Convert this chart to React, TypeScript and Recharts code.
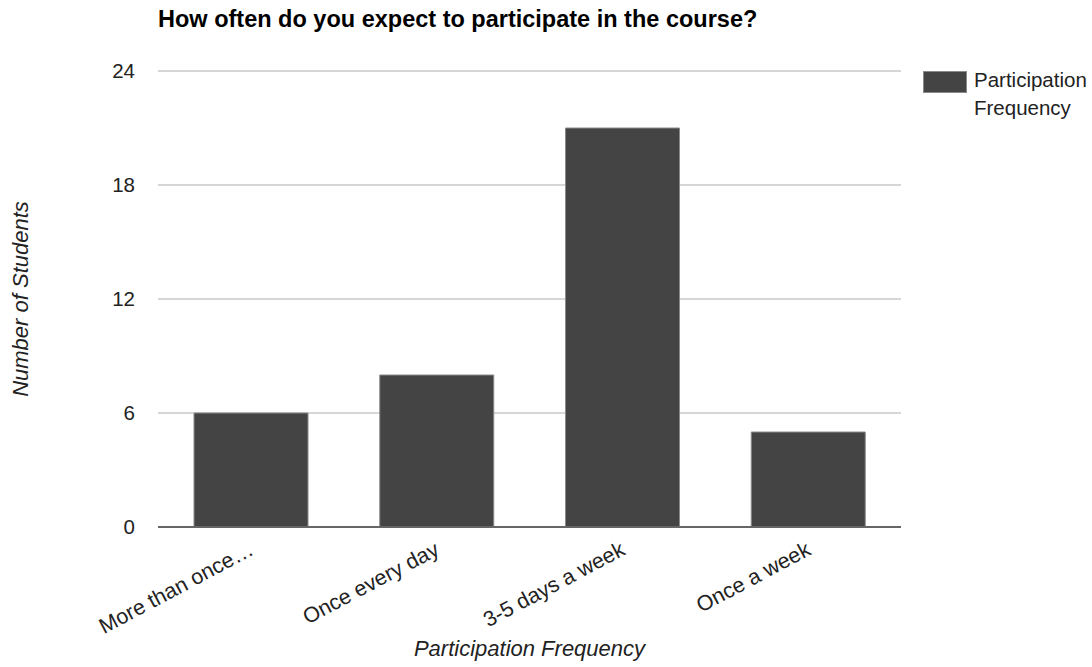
import React from 'react';
import { Bar, BarChart, CartesianGrid, Legend, XAxis, YAxis } from 'recharts';

const categories = ['More than once…', 'Once every day', '3-5 days a week', 'Once a week'];
const students = [6, 8, 21, 5];
const yTicks = [0, 6, 12, 18, 24];
const seriesName = 'Participation Frequency';

const data = categories.map((category, i) => ({ category, students: students[i] }));

const FONT = '"Liberation Sans", Arial, sans-serif';
const TEXT = '#222222';
const BAR = '#444444';

const RotatedTick = (props: any) => {
  const { x, y, payload } = props;
  const tx = x + 4;
  const ty = y + 27;
  return (
    <text
      x={tx}
      y={ty}
      textAnchor="end"
      fontFamily={FONT}
      fontSize={21.5}
      fill={TEXT}
      transform={`rotate(-28, ${tx}, ${ty})`}
    >
      {payload.value}
    </text>
  );
};

const XTitle = (props: any) => {
  const { viewBox } = props;
  return (
    <text
      x={viewBox.x + viewBox.width / 2}
      y={656}
      textAnchor="middle"
      fontFamily={FONT}
      fontSize={22}
      fontStyle="italic"
      fill={TEXT}
    >
      Participation Frequency
    </text>
  );
};

const YTitle = (props: any) => {
  const { viewBox } = props;
  const cy = viewBox.y + viewBox.height / 2;
  return (
    <text
      x={28}
      y={cy}
      textAnchor="middle"
      fontFamily={FONT}
      fontSize={22}
      fontStyle="italic"
      fill={TEXT}
      transform={`rotate(-90, 28, ${cy})`}
    >
      Number of Students
    </text>
  );
};

const LegendBox = ({ payload }: any) => (
  <div style={{ fontFamily: FONT, fontSize: 20.5, lineHeight: '28px', color: TEXT }}>
    {(payload || []).map((entry: any) => (
      <div key={entry.value} style={{ display: 'flex', alignItems: 'flex-start' }}>
        <span
          style={{
            display: 'inline-block',
            width: 44,
            height: 22,
            marginTop: 5,
            marginRight: 7,
            background: BAR,
            border: '1px solid #8a8a8a',
            boxSizing: 'border-box',
            flexShrink: 0,
          }}
        />
        <span style={{ width: 120 }}>{entry.value}</span>
      </div>
    ))}
  </div>
);

const App = () => {
  return (
    <div style={{ position: 'absolute', left: 0, top: 0, width: 1092, height: 667, background: '#fff' }}>
      <div
        style={{
          position: 'absolute',
          left: 158,
          top: 8,
          fontFamily: FONT,
          fontWeight: 'bold',
          fontSize: 23.5,
          lineHeight: 1,
          color: '#000',
          whiteSpace: 'nowrap',
        }}
      >
        How often do you expect to participate in the course?
      </div>
      <BarChart
        width={1092}
        height={667}
        data={data}
        margin={{ top: 71, right: 191, bottom: 0, left: 0 }}
      >
        <CartesianGrid vertical={false} stroke="#d6d6d6" strokeWidth={2} />
        <XAxis
          dataKey="category"
          height={140}
          interval={0}
          tickLine={false}
          tickSize={0}
          tickMargin={0}
          axisLine={{ stroke: '#666666', strokeWidth: 2 }}
          tick={<RotatedTick />}
          label={<XTitle />}
        />
        <YAxis
          width={158}
          domain={[0, 24]}
          ticks={yTicks}
          axisLine={false}
          tickLine={false}
          tickSize={0}
          tickMargin={23}
          tick={{ fontFamily: FONT, fontSize: 20.5, fill: TEXT }}
          label={<YTitle />}
        />
        <Legend
          layout="horizontal"
          verticalAlign="middle"
          align="center"
          content={<LegendBox />}
          wrapperStyle={{ left: 923, top: 66, width: 169 }}
        />
        <Bar
          dataKey="students"
          name={seriesName}
          fill={BAR}
          stroke="#8a8a8a"
          strokeWidth={1}
          barSize={114}
          isAnimationActive={false}
        />
      </BarChart>
    </div>
  );
};

export default App;
